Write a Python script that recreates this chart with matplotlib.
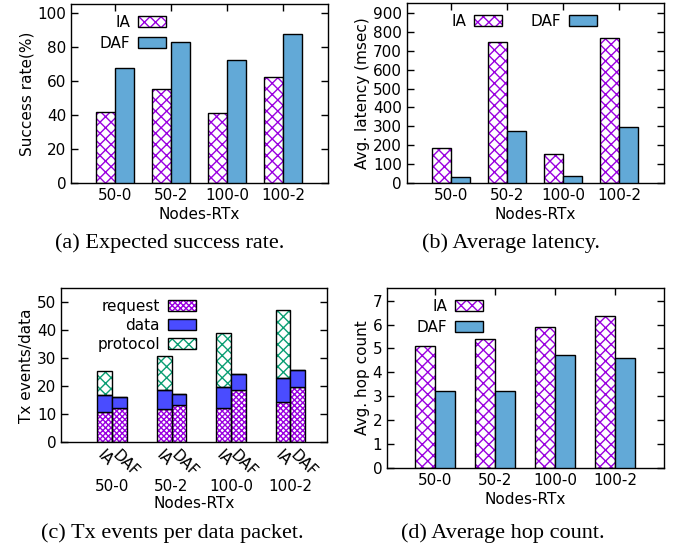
import numpy as np
import matplotlib
matplotlib.use("Agg")
import matplotlib.pyplot as plt
from matplotlib.transforms import blended_transform_factory

# ----------------------------------------------------------------------
# data
# ----------------------------------------------------------------------
CATEGORIES = ["50-0", "50-2", "100-0", "100-2"]
SERIES = ["IA", "DAF"]

SUCCESS_IA = [41.9, 55.4, 41.3, 62.4]
SUCCESS_DAF = [67.3, 82.8, 72.2, 87.3]

LATENCY_IA = [186, 746, 154, 771]
LATENCY_DAF = [32, 275, 34, 294]

HOP_IA = [5.11, 5.38, 5.88, 6.34]
HOP_DAF = [3.2, 3.2, 4.71, 4.61]

# Tx events per data packet, stacked: request / data / protocol
TX_PARTS = ["request", "data", "protocol"]
TX_IA = {"request": [10.7, 11.9, 12.1, 14.4],
         "data": [6.1, 6.7, 7.5, 8.5],
         "protocol": [8.7, 12.2, 19.3, 24.2]}
TX_DAF = {"request": [12.1, 13.2, 18.6, 19.6],
          "data": [4.0, 3.9, 5.7, 6.1],
          "protocol": [0.1, 0.1, 0.2, 0.1]}

CAPTIONS = ["(a) Expected success rate.", "(b) Average latency.",
            "(c) Tx events per data packet.", "(d) Average hop count."]

# ----------------------------------------------------------------------
# styles
# ----------------------------------------------------------------------
VIOLET = "#9a00e0"
DAF_BLUE = "#62a9d7"
DATA_BLUE = "#4a4cff"
GREEN = "#0a9e73"
FS = 11

plt.rcParams["font.family"] = "DejaVu Sans"
plt.rcParams["hatch.linewidth"] = 1.0

LEG_KW = dict(frameon=False, markerfirst=False, fontsize=FS, handlelength=1.85,
              handleheight=0.75, handletextpad=0.5, borderaxespad=0.3)


def hatched_bar(ax, x, h, w, color, hatch, bottom=0.0):
    """white bar with coloured hatch + black outline (drawn in two passes)"""
    fill = ax.bar(x, h, w, bottom=bottom, align="edge", color="white",
                  edgecolor=color, hatch=hatch, linewidth=0, zorder=2)
    edge = ax.bar(x, h, w, bottom=bottom, align="edge", color="none",
                  edgecolor="black", linewidth=1.0, zorder=3)
    return (fill[0], edge[0])


def solid_bar(ax, x, h, w, color, bottom=0.0):
    b = ax.bar(x, h, w, bottom=bottom, align="edge", color=color,
               edgecolor="black", linewidth=1.0, zorder=3)
    return b[0]


def style_axes(ax, xlim, ylim, yticks):
    ax.set_xlim(*xlim)
    ax.set_ylim(*ylim)
    ax.set_yticks(yticks)
    ax.tick_params(direction="in", top=True, right=True, labelsize=FS,
                   length=5, width=1)
    for s in ax.spines.values():
        s.set_linewidth(1.0)


fig = plt.figure(figsize=(6.78, 5.49), dpi=100)
W, H = 678.0, 549.0


def add_axes(left, right, top, bottom):
    return fig.add_axes([left / W, 1 - bottom / H, (right - left) / W, (bottom - top) / H])


x = np.arange(len(CATEGORIES))

# (a) success rate
ax = add_axes(71, 328, 4, 183)
w = 0.34
h_ia = h_daf = None
for i in x:
    h_ia = hatched_bar(ax, i - w, SUCCESS_IA[i], w, VIOLET, "xxx")
    h_daf = solid_bar(ax, i, SUCCESS_DAF[i], w, DAF_BLUE)
style_axes(ax, (-0.79, 3.8), (0, 105), np.arange(0, 101, 20))
ax.set_xticks(x, CATEGORIES)
ax.set_ylabel("Success rate(%)", fontsize=FS, labelpad=2)
ax.set_xlabel("Nodes-RTx", fontsize=FS, labelpad=3)
ax.legend([h_ia, h_daf], SERIES, loc="upper right", bbox_to_anchor=(0.411, 1.0),
          labelspacing=0.4, **LEG_KW)

# (b) latency
ax = add_axes(406.7, 664, 3.3, 182.7)
for i in x:
    h_ia = hatched_bar(ax, i - w, LATENCY_IA[i], w, VIOLET, "xxx")
    h_daf = solid_bar(ax, i, LATENCY_DAF[i], w, DAF_BLUE)
style_axes(ax, (-0.8, 3.8), (0, 953), np.arange(0, 901, 100))
ax.set_xticks(x, CATEGORIES)
ax.set_ylabel("Avg. latency (msec)", fontsize=FS, labelpad=2)
ax.set_xlabel("Nodes-RTx", fontsize=FS, labelpad=3)
ax.legend([h_ia, h_daf], SERIES, loc="upper left", bbox_to_anchor=(0.131, 1.0),
          ncol=2, columnspacing=1.9, **LEG_KW)

# (c) stacked tx events
ax = add_axes(61, 326.7, 288.3, 442.3)
wc = 0.25
handles = {}
for series, data, off in [("IA", TX_IA, -wc), ("DAF", TX_DAF, 0.0)]:
    for i in x:
        base = 0.0
        for part in TX_PARTS:
            val = data[part][i]
            if part == "request":
                hd = hatched_bar(ax, i + off, val, wc, VIOLET, "xxxxxx", bottom=base)
            elif part == "data":
                hd = solid_bar(ax, i + off, val, wc, DATA_BLUE, bottom=base)
            else:
                hd = hatched_bar(ax, i + off, val, wc, GREEN, "xxx", bottom=base)
            handles[part] = hd
            base += val
style_axes(ax, (-0.86, 3.61), (0, 55), np.arange(0, 51, 10))
bar_pos = np.concatenate([x - wc / 2, x + wc / 2])
bar_lab = ["IA"] * len(x) + ["DAF"] * len(x)
ax.set_xticks(bar_pos, bar_lab)
ax.tick_params(axis="x", length=0, pad=4)
for lab in ax.get_xticklabels():
    lab.set_rotation(-45)
    lab.set_ha("left")
    lab.set_va("top")
    lab.set_rotation_mode("anchor")
trans = blended_transform_factory(ax.transData, ax.transAxes)
for i, c in enumerate(CATEGORIES):
    ax.text(i, -0.29, c, transform=trans, ha="center", va="center", fontsize=FS)
ax.text(0.5, -0.395, "Nodes-RTx", transform=ax.transAxes, ha="center",
        va="center", fontsize=FS)
ax.set_ylabel("Tx events/data", fontsize=FS, labelpad=2)
ax.legend([handles[p] for p in TX_PARTS], TX_PARTS, loc="upper right",
          bbox_to_anchor=(0.548, 1.0), labelspacing=0.25, **LEG_KW)

# (d) hop count
ax = add_axes(387, 664, 288.3, 467.7)
wd = 0.33
for i in x:
    h_ia = hatched_bar(ax, i - wd, HOP_IA[i], wd, VIOLET, "xxx")
    h_daf = solid_bar(ax, i, HOP_DAF[i], wd, DAF_BLUE)
style_axes(ax, (-0.8, 3.82), (0, 7.52), np.arange(0, 8, 1))
ax.set_xticks(x, CATEGORIES)
ax.set_ylabel("Avg. hop count", fontsize=FS, labelpad=2)
ax.set_xlabel("Nodes-RTx", fontsize=FS, labelpad=3)
ax.legend([h_ia, h_daf], SERIES, loc="upper right", bbox_to_anchor=(0.385, 1.0),
          labelspacing=0.4, **LEG_KW)

# captions
for (cx, cy), text in zip([(170, 243), (511, 243), (172, 533), (503, 533)], CAPTIONS):
    fig.text(cx / W, 1 - cy / H, text, ha="center", va="center",
             fontsize=16, family="Liberation Serif")

fig.savefig("out.png", dpi=100)
